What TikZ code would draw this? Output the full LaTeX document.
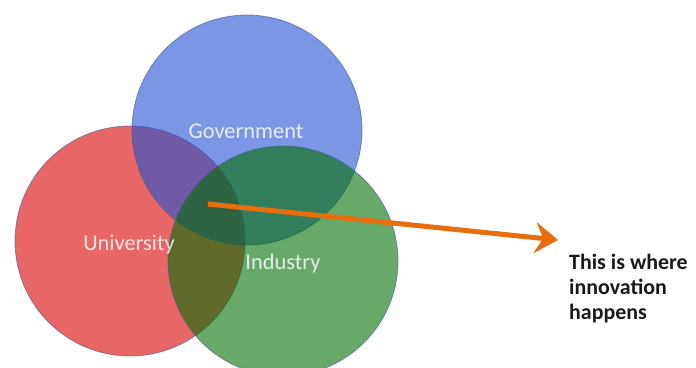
\documentclass[tikz,border=0pt]{standalone}
\usepackage{fontspec}
\setmainfont{Carlito}
\usetikzlibrary{arrows.meta}
\definecolor{cred}{RGB}{217,0,0}
\definecolor{cblue}{RGB}{33,80,210}
\definecolor{cgreen}{RGB}{3,110,3}
\definecolor{corange}{RGB}{230,110,12}
\definecolor{cedge}{RGB}{70,90,140}
\tikzset{
  venn/.style={circle, minimum size=230bp, inner sep=0pt, fill opacity=0.6, draw=cedge, draw opacity=0.6, line width=0.8bp},
  vlabel/.style={text=white, text opacity=0.82, font=\fontsize{22.5}{26}\selectfont, inner sep=0pt},
  pointer/.style={draw=corange, line width=5bp, -{Stealth[length=23bp,width=31bp,inset=8bp]}},
  note/.style={font=\bfseries\fontsize{22}{25}\selectfont, align=left, inner sep=0pt, anchor=north west, text=black!90}
}
\begin{document}
\begin{tikzpicture}[x=1bp,y=-1bp]
\useasboundingbox (0,0) rectangle (696,367);
\node[venn, fill=cred] (uni) at (130,241) {};
\node[venn, fill=cblue] (gov) at (247,130) {};
\node[venn, fill=cgreen] (ind) at (283,261) {};
\node[vlabel] (govl) at (246,131) {Government};
\node[vlabel] (unil) at (129,245) {University};
\node[vlabel] (indl) at (283,264) {Industry};
\coordinate (core) at (208,204);
\coordinate (dest) at (558,240);
\draw[pointer] (core) -- (dest);
\node[note] (txt) at (569,254) {This is where\\innovation\\happens};
\end{tikzpicture}
\end{document}
